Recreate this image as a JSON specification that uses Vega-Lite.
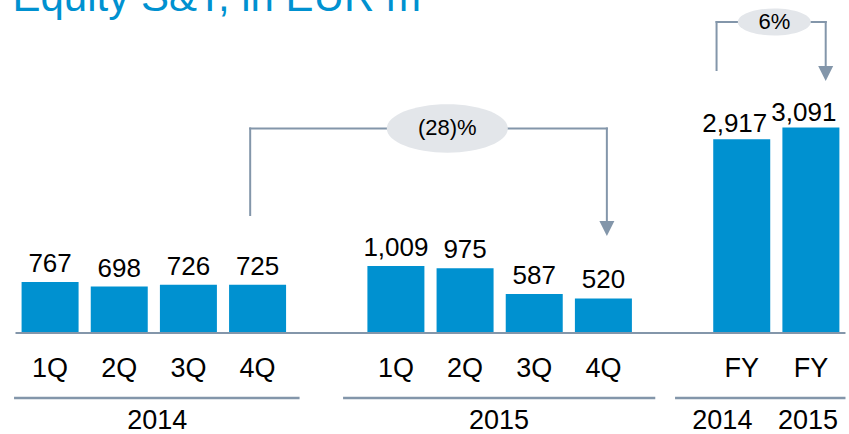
{
  "$schema": "https://vega.github.io/schema/vega-lite/v6.json",
  "autosize": {"type": "none"},
  "width": 838.5,
  "height": 299,
  "padding": {"left": 10.5, "top": 34, "right": 0, "bottom": 101},
  "background": "white",
  "title": {
    "text": "Equity S&T, in EUR m",
    "anchor": "start",
    "frame": "group",
    "orient": "top",
    "baseline": "alphabetic",
    "offset": -45,
    "dx": 2,
    "fontSize": 42,
    "font": "Liberation Sans",
    "fontWeight": "normal",
    "color": "#0091D0"
  },
  "config": {"view": {"stroke": null}, "font": "Liberation Sans"},
  "datasets": {
    "bars": [
      {"pos": 0, "period": "1Q", "year": "2014", "value": 767},
      {"pos": 1, "period": "2Q", "year": "2014", "value": 698},
      {"pos": 2, "period": "3Q", "year": "2014", "value": 726},
      {"pos": 3, "period": "4Q", "year": "2014", "value": 725},
      {"pos": 5, "period": "1Q", "year": "2015", "value": 1009},
      {"pos": 6, "period": "2Q", "year": "2015", "value": 975},
      {"pos": 7, "period": "3Q", "year": "2015", "value": 587},
      {"pos": 8, "period": "4Q", "year": "2015", "value": 520},
      {"pos": 10, "period": "FY", "year": "2014", "value": 2917},
      {"pos": 11, "period": "FY", "year": "2015", "value": 3091}
    ],
    "groups": [
      {"group": "2014", "start": -0.521, "end": 3.607},
      {"group": "2015", "start": 4.236, "end": 8.75},
      {"group": "FY", "start": 9.036, "end": 11.5}
    ],
    "yearLabels": [
      {"year": "2014", "pos": 1.55},
      {"year": "2015", "pos": 6.49},
      {"year": "2014", "pos": 9.72},
      {"year": "2015", "pos": 10.957}
    ],
    "segments": [
      {"x1": 2.893, "y1": 1776, "x2": 2.893, "y2": 3078},
      {"x1": 2.893, "y1": 3078, "x2": 8.05, "y2": 3078},
      {"x1": 8.05, "y1": 3078, "x2": 8.05, "y2": 1686},
      {"x1": 9.636, "y1": 3958, "x2": 9.636, "y2": 4681},
      {"x1": 9.636, "y1": 4681, "x2": 11.214, "y2": 4681},
      {"x1": 11.214, "y1": 4681, "x2": 11.214, "y2": 4033}
    ],
    "arrows": [
      {"pos": 8.05, "y": 1573},
      {"pos": 11.214, "y": 3906}
    ],
    "changes": [
      {"label": "(28)%", "pos": 5.743, "y": 3078, "kind": "quarter"},
      {"label": "6%", "pos": 10.471, "y": 4681, "kind": "year"}
    ]
  },
  "layer": [
    {
      "data": {"name": "bars"},
      "mark": {"type": "bar", "width": 57, "color": "#0091D0"},
      "encoding": {
        "x": {"field": "pos", "type": "quantitative", "scale": {"domain": [-0.5, 11.4786], "nice": false, "zero": false}, "axis": null},
        "y": {"field": "value", "type": "quantitative", "scale": {"domain": [0, 4500], "nice": false}, "axis": null}
      }
    },
    {
      "data": {"name": "bars"},
      "transform": [{"filter": "datum.period !== 'FY'"}],
      "mark": {"type": "text", "baseline": "alphabetic", "dy": -10, "fontSize": 26, "color": "#000000"},
      "encoding": {
        "x": {"field": "pos", "type": "quantitative"},
        "y": {"field": "value", "type": "quantitative"},
        "text": {"field": "value", "format": ","}
      }
    },
    {
      "data": {"name": "bars"},
      "transform": [{"filter": "datum.period === 'FY'"}],
      "mark": {"type": "text", "baseline": "alphabetic", "dy": -7, "dx": -7, "fontSize": 26, "color": "#000000"},
      "encoding": {
        "x": {"field": "pos", "type": "quantitative"},
        "y": {"field": "value", "type": "quantitative"},
        "text": {"field": "value", "format": ","}
      }
    },
    {
      "data": {"name": "bars"},
      "mark": {"type": "text", "baseline": "alphabetic", "dy": 44, "fontSize": 27, "color": "#000000"},
      "encoding": {
        "x": {"field": "pos", "type": "quantitative"},
        "y": {"datum": 0},
        "text": {"field": "period"}
      }
    },
    {
      "data": {"values": [{}]},
      "mark": {"type": "rule", "color": "#8396AA", "strokeWidth": 2},
      "encoding": {
        "x": {"datum": -0.5},
        "x2": {"datum": 11.5},
        "y": {"datum": 0}
      }
    },
    {
      "data": {"name": "groups"},
      "mark": {"type": "rule", "color": "#8396AA", "strokeWidth": 2.5, "yOffset": 65},
      "encoding": {
        "x": {"field": "start", "type": "quantitative"},
        "x2": {"field": "end"},
        "y": {"datum": 0}
      }
    },
    {
      "data": {"name": "yearLabels"},
      "mark": {"type": "text", "baseline": "alphabetic", "dy": 96, "fontSize": 27, "color": "#000000"},
      "encoding": {
        "x": {"field": "pos", "type": "quantitative"},
        "y": {"datum": 0},
        "text": {"field": "year"}
      }
    },
    {
      "data": {"name": "segments"},
      "mark": {"type": "rule", "color": "#8396AA", "strokeWidth": 2, "strokeCap": "square"},
      "encoding": {
        "x": {"field": "x1", "type": "quantitative"},
        "x2": {"field": "x2"},
        "y": {"field": "y1", "type": "quantitative"},
        "y2": {"field": "y2"}
      }
    },
    {
      "data": {"name": "arrows"},
      "mark": {"type": "point", "shape": "M-1,-1L1,-1L0,1Z", "size": 225, "filled": true, "opacity": 1, "color": "#8396AA"},
      "encoding": {
        "x": {"field": "pos", "type": "quantitative"},
        "y": {"field": "y", "type": "quantitative"}
      }
    },
    {
      "data": {"name": "changes"},
      "transform": [{"filter": "datum.kind === 'quarter'"}],
      "mark": {"type": "point", "shape": "M-1,0C-1,-0.2209,-0.5523,-0.4,0,-0.4C0.5523,-0.4,1,-0.2209,1,0C1,0.2209,0.5523,0.4,0,0.4C-0.5523,0.4,-1,0.2209,-1,0Z", "size": 14641, "filled": true, "opacity": 1, "color": "#E3E6EA"},
      "encoding": {
        "x": {"field": "pos", "type": "quantitative"},
        "y": {"field": "y", "type": "quantitative"}
      }
    },
    {
      "data": {"name": "changes"},
      "transform": [{"filter": "datum.kind === 'year'"}],
      "mark": {"type": "point", "shape": "M-1,0C-1,-0.2044,-0.5523,-0.37,0,-0.37C0.5523,-0.37,1,-0.2044,1,0C1,0.2044,0.5523,0.37,0,0.37C-0.5523,0.37,-1,0.2044,-1,0Z", "size": 5329, "filled": true, "opacity": 1, "color": "#E3E6EA"},
      "encoding": {
        "x": {"field": "pos", "type": "quantitative"},
        "y": {"field": "y", "type": "quantitative"}
      }
    },
    {
      "data": {"name": "changes"},
      "mark": {"type": "text", "baseline": "middle", "fontSize": 22, "color": "#000000"},
      "encoding": {
        "x": {"field": "pos", "type": "quantitative"},
        "y": {"field": "y", "type": "quantitative"},
        "text": {"field": "label"}
      }
    }
  ]
}
